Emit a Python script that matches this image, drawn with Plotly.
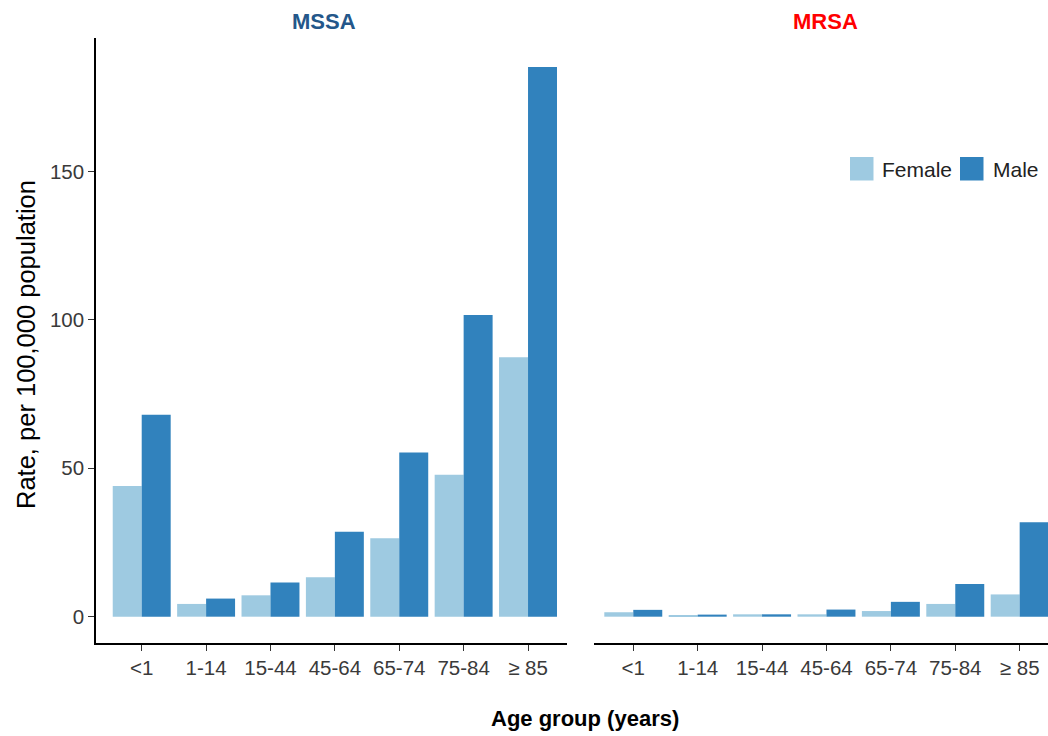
import plotly.graph_objects as go

# Age groups and incidence rates (per 100,000 population)
age_groups = ["<1", "1-14", "15-44", "45-64", "65-74", "75-84", "\u2265 85"]

mssa_female = [44.0, 4.3, 7.2, 13.3, 26.4, 47.8, 87.4]
mssa_male = [68.0, 6.1, 11.5, 28.6, 55.3, 101.6, 185.1]

mrsa_female = [1.5, 0.3, 0.8, 0.8, 1.9, 4.3, 7.5]
mrsa_male = [2.3, 0.7, 0.8, 2.4, 5.0, 11.0, 31.8]

panel_titles = ["MSSA", "MRSA"]
sexes = ["Female", "Male"]

COL_F = "#9ecae1"
COL_M = "#3182bd"
FONT = "Liberation Sans, Arial, sans-serif"
TICK_COL = "#3a3a3a"

W, H = 1048, 736


def px_x(p):
    return p / W


def px_y(p):
    return 1 - p / H


fig = go.Figure()

panels = [("x", "y", mssa_female, mssa_male), ("x2", "y2", mrsa_female, mrsa_male)]
for xa, ya, fem, mal in panels:
    for name, vals, col in ((sexes[0], fem, COL_F), (sexes[1], mal, COL_M)):
        fig.add_trace(go.Bar(
            x=age_groups, y=vals, name=name, xaxis=xa, yaxis=ya,
            marker=dict(color=col, line=dict(width=0)),
            showlegend=False,
        ))

y_range = [-8.86, 194.9]
y_dom = [px_y(643), px_y(38)]

axis_common = dict(
    type="category",
    showline=True, linecolor="black", linewidth=1.5,
    ticks="outside", ticklen=6, tickwidth=1.3, tickcolor="#333333",
    tickfont=dict(family=FONT, size=20.5, color=TICK_COL),
    showgrid=False, zeroline=False, fixedrange=True,
)

fig.update_layout(
    width=W, height=H,
    margin=dict(l=0, r=0, t=0, b=0),
    paper_bgcolor="white", plot_bgcolor="white",
    barmode="group", bargap=0.1, bargroupgap=0,
    xaxis=dict(domain=[px_x(96), px_x(567.3)], range=[-0.71, 6.61],
               anchor="y", **axis_common),
    xaxis2=dict(domain=[px_x(594), 1.0], range=[-0.61, 6.44],
                anchor="y2", **axis_common),
    yaxis=dict(domain=y_dom, range=y_range, anchor="x",
               tickvals=[0, 50, 100, 150],
               showline=True, linecolor="black", linewidth=1.5,
               ticks="outside", ticklen=6, tickwidth=1.3, tickcolor="#333333",
               tickfont=dict(family=FONT, size=20.5, color=TICK_COL),
               showgrid=False, zeroline=False, fixedrange=True),
    yaxis2=dict(domain=y_dom, range=y_range, anchor="x2", matches="y",
                showline=False, showticklabels=False, ticks="",
                showgrid=False, zeroline=False, fixedrange=True),
    showlegend=False,
)

annotations = [
    # facet strip titles
    dict(text="<b>%s</b>" % panel_titles[0], x=px_x(324), y=px_y(22),
         font=dict(family=FONT, size=22, color="#24578a")),
    dict(text="<b>%s</b>" % panel_titles[1], x=px_x(825), y=px_y(22),
         font=dict(family=FONT, size=22, color="#ff0000")),
    # axis titles
    dict(text="Rate, per 100,000 population", x=px_x(26), y=px_y(345),
         textangle=-90, font=dict(family=FONT, size=25.5, color="black")),
    dict(text="<b>Age group (years)</b>", x=px_x(585), y=px_y(718),
         font=dict(family=FONT, size=22, color="black")),
    # legend labels
    dict(text=sexes[0], x=px_x(880), y=px_y(169), xanchor="left",
         font=dict(family=FONT, size=21, color="#222222")),
    dict(text=sexes[1], x=px_x(991), y=px_y(169), xanchor="left",
         font=dict(family=FONT, size=21, color="#222222")),
]
for a in annotations:
    a.setdefault("xanchor", "center")
    a.update(xref="paper", yref="paper", yanchor="middle", showarrow=False)
fig.update_layout(annotations=annotations)

# legend keys
for x0, col in ((850, COL_F), (960, COL_M)):
    fig.add_shape(type="rect", xref="paper", yref="paper",
                  x0=px_x(x0), x1=px_x(x0 + 23.5), y0=px_y(180.5), y1=px_y(157),
                  fillcolor=col, line=dict(width=0))

fig.write_html("out.html")
